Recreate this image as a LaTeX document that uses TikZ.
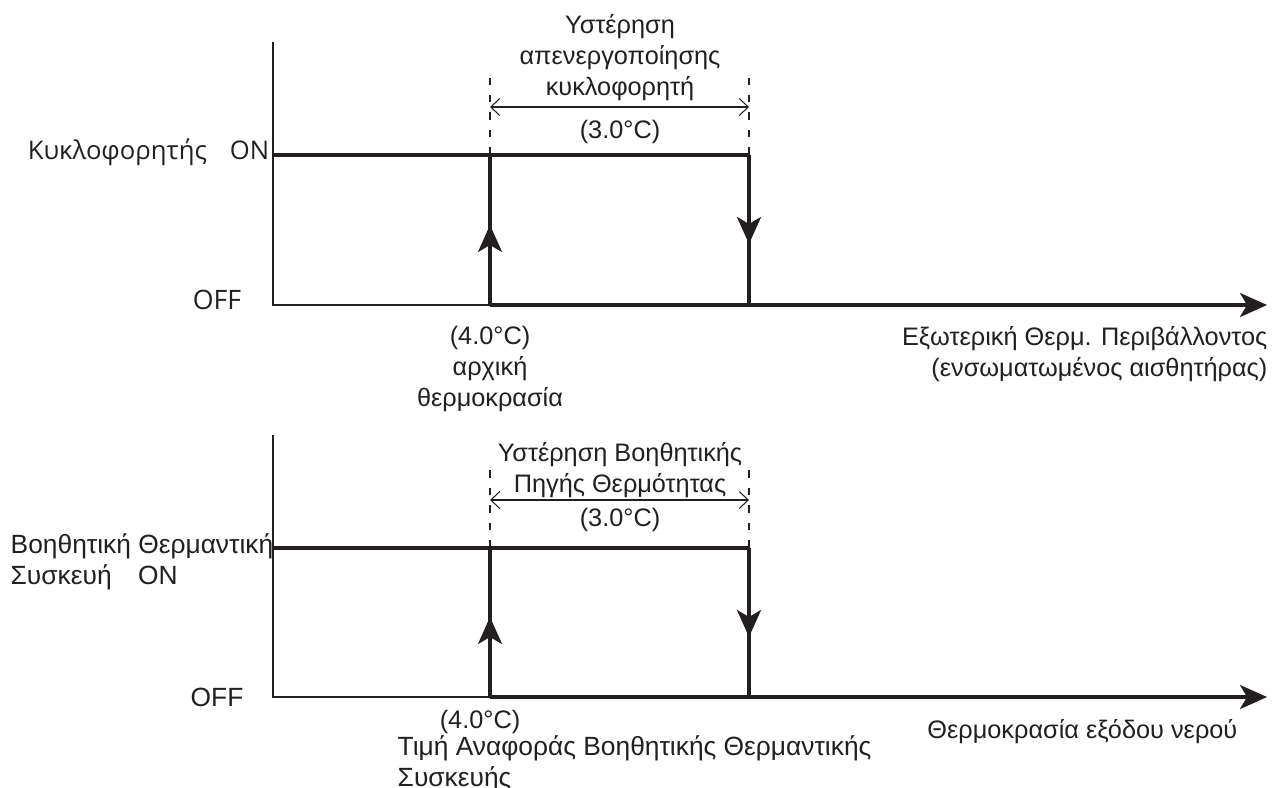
\documentclass[tikz,border=0pt]{standalone}
\usepackage{fontspec}
\setmainfont{Liberation Sans}
\newfontfamily\myriadlike{Open Sans}
\usetikzlibrary{arrows.meta}
\definecolor{ink}{RGB}{35,31,32}
\tikzset{
  axisline/.style={ink,line width=0.45pt},
  stateline/.style={ink,line width=0.9pt},
  flowtip/.style={-{Stealth[length=0.27cm,width=0.24cm,inset=0.07cm]}},
  guide/.style={ink,line width=0.3pt,dash pattern=on 2.2pt off 2.8pt},
  span/.style={ink,line width=0.3pt,
    {Straight Barb[length=0.09cm,width=0.17cm]}-{Straight Barb[length=0.09cm,width=0.17cm]}},
  lbl/.style={inner sep=0pt,text=ink,font=\fontsize{7.2}{8.8}\selectfont},
  sidelbl/.style={lbl,font=\fontsize{7.5}{8.8}\selectfont}
}

\begin{document}
\begin{tikzpicture}
  \useasboundingbox (0,0) rectangle (12.77,7.87);
  % circulator
  \coordinate (p0) at (2.73,4.82);
  \coordinate (ptop) at (2.73,7.45);
  \coordinate (pon) at (2.73,6.32);
  \coordinate (pa) at (4.90,4.82);
  \coordinate (pb) at (7.49,4.82);
  \coordinate (pend) at (12.67,4.82);
  \coordinate (pga) at (4.90,7.09);
  \coordinate (pgb) at (7.49,7.09);
  \coordinate (pda) at (4.90,6.80);
  \coordinate (pdb) at (7.49,6.80);
  \draw[axisline] (ptop) -- (p0) -- (pa);
  \draw[stateline] (pon) -- (pon -| pb);
  \draw[stateline,flowtip] (pa) -- ++(0,0.80);
  \draw[stateline] (pa) -- (pa |- pon);
  \draw[stateline,flowtip] (pon -| pb) -- ++(0,-0.89);
  \draw[stateline] (pon -| pb) -- (pb);
  \draw[stateline,flowtip] (pa) -- (pend);
  \draw[guide] (pa |- pon) -- (pga);
  \draw[guide] (pb |- pon) -- (pgb);
  \draw[span] (pda) -- (pdb);
  \node[lbl,align=center] (physt) at (6.20,7.29)
    {Υστέρηση\\απενεργοποίησης\\κυκλοφορητή};
  \node[lbl] (pdiff) at (6.20,6.55) {(3.0°C)};
  \node[sidelbl,anchor=east,font=\fontsize{7.3}{8.8}\myriadlike] (pname) at (2.70,6.35)
    {Κυκλοφορητής\hspace{0.9em}ON};
  \node[sidelbl,font=\fontsize{7.6}{8.8}\myriadlike] (poff) at (2.17,4.87) {OFF};
  \node[lbl,align=center] (pstart) at (4.90,4.18)
    {(4.0°C)\\αρχική\\θερμοκρασία};
  \node[lbl,align=right,anchor=east] (paxis) at (12.68,4.33)
    {Εξωτερική Θερμ. Περιβάλλοντος\\(ενσωματωμένος αισθητήρας)};

  % backup heater
  \coordinate (q0) at (2.73,0.90);
  \coordinate (qtop) at (2.73,3.52);
  \coordinate (qon) at (2.73,2.39);
  \coordinate (qa) at (4.90,0.90);
  \coordinate (qb) at (7.49,0.90);
  \coordinate (qend) at (12.67,0.90);
  \coordinate (qga) at (4.90,3.17);
  \coordinate (qgb) at (7.49,3.17);
  \coordinate (qda) at (4.90,2.87);
  \coordinate (qdb) at (7.49,2.87);
  \draw[axisline] (qtop) -- (q0) -- (qa);
  \draw[stateline] (qon) -- (qon -| qb);
  \draw[stateline,flowtip] (qa) -- ++(0,0.80);
  \draw[stateline] (qa) -- (qa |- qon);
  \draw[stateline,flowtip] (qon -| qb) -- ++(0,-0.89);
  \draw[stateline] (qon -| qb) -- (qb);
  \draw[stateline,flowtip] (qa) -- (qend);
  \draw[guide] (qa |- qon) -- (qga);
  \draw[guide] (qb |- qon) -- (qgb);
  \draw[span] (qda) -- (qdb);
  \node[lbl,align=center] (qhyst) at (6.20,3.17)
    {Υστέρηση Βοηθητικής\\Πηγής Θερμότητας};
  \node[lbl] (qdiff) at (6.20,2.67) {(3.0°C)};
  \node[sidelbl,align=left,anchor=west] (qname) at (0.10,2.25)
    {Βοηθητική Θερμαντική\\Συσκευή\hspace{1em}ON};
  \node[sidelbl] (qoff) at (2.17,0.90) {OFF};
  \node[lbl] (qstart) at (4.80,0.65) {(4.0°C)};
  \node[sidelbl,align=left,anchor=west] (qref) at (3.97,0.235)
    {Τιμή Αναφοράς Βοηθητικής Θερμαντικής\\Συσκευής};
  \node[lbl,anchor=east] (qaxis) at (12.38,0.55) {Θερμοκρασία εξόδου νερού};
\end{tikzpicture}
\end{document}
